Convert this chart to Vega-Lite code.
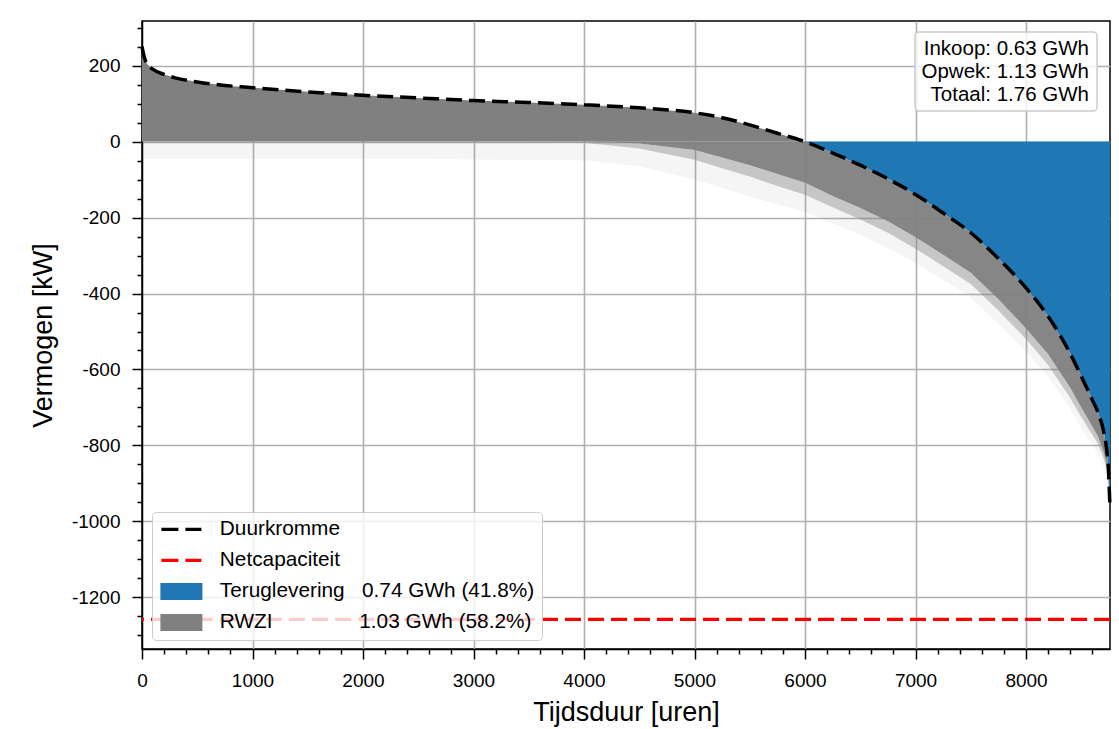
{
  "$schema": "https://vega.github.io/schema/vega-lite/v6.json",
  "width": 968,
  "height": 628,
  "autosize": {"type": "none"},
  "padding": {"left": 142, "top": 21, "right": 9, "bottom": 80},
  "background": "white",
  "datasets": {
    "curve": [
      {"t": 0, "kw": 250, "top": 0, "b1": 0, "b2": -2, "b3": -45},
      {"t": 25, "kw": 218, "top": 0, "b1": 0, "b2": -2, "b3": -45},
      {"t": 50, "kw": 203, "top": 0, "b1": 0, "b2": -2, "b3": -45},
      {"t": 100, "kw": 190, "top": 0, "b1": 0, "b2": -2, "b3": -45},
      {"t": 200, "kw": 177, "top": 0, "b1": 0, "b2": -2, "b3": -45},
      {"t": 300, "kw": 168, "top": 0, "b1": 0, "b2": -2, "b3": -45},
      {"t": 500, "kw": 157, "top": 0, "b1": 0, "b2": -2, "b3": -45},
      {"t": 750, "kw": 148, "top": 0, "b1": 0, "b2": -2, "b3": -45},
      {"t": 1000, "kw": 142, "top": 0, "b1": 0, "b2": -2, "b3": -45},
      {"t": 1500, "kw": 131, "top": 0, "b1": 0, "b2": -2, "b3": -45},
      {"t": 2000, "kw": 122, "top": 0, "b1": 0, "b2": -2, "b3": -45},
      {"t": 2500, "kw": 115, "top": 0, "b1": 0, "b2": -2, "b3": -45},
      {"t": 3000, "kw": 108, "top": 0, "b1": 0, "b2": -2, "b3": -47},
      {"t": 3500, "kw": 103, "top": 0, "b1": 0, "b2": -2, "b3": -48},
      {"t": 4000, "kw": 97, "top": 0, "b1": 0, "b2": -3, "b3": -50},
      {"t": 4500, "kw": 89, "top": 0, "b1": -5, "b2": -18, "b3": -65},
      {"t": 5000, "kw": 76, "top": 0, "b1": -22, "b2": -48, "b3": -100},
      {"t": 5250, "kw": 63, "top": 0, "b1": -42, "b2": -70, "b3": -122},
      {"t": 5500, "kw": 44, "top": 0, "b1": -62, "b2": -92, "b3": -145},
      {"t": 5750, "kw": 22, "top": 0, "b1": -85, "b2": -117, "b3": -165},
      {"t": 6000, "kw": 0, "top": 0, "b1": -108, "b2": -140, "b3": -185},
      {"t": 6250, "kw": -30, "top": -30, "b1": -143, "b2": -173, "b3": -215},
      {"t": 6500, "kw": -62, "top": -62, "b1": -175, "b2": -205, "b3": -245},
      {"t": 6750, "kw": -98, "top": -98, "b1": -210, "b2": -240, "b3": -280},
      {"t": 7000, "kw": -139, "top": -139, "b1": -252, "b2": -282, "b3": -320},
      {"t": 7250, "kw": -188, "top": -188, "b1": -298, "b2": -328, "b3": -364},
      {"t": 7500, "kw": -240, "top": -240, "b1": -345, "b2": -375, "b3": -410},
      {"t": 7750, "kw": -308, "top": -308, "b1": -415, "b2": -445, "b3": -480},
      {"t": 8000, "kw": -385, "top": -385, "b1": -492, "b2": -520, "b3": -552},
      {"t": 8200, "kw": -460, "top": -460, "b1": -560, "b2": -588, "b3": -618},
      {"t": 8400, "kw": -558, "top": -558, "b1": -648, "b2": -675, "b3": -702},
      {"t": 8500, "kw": -618, "top": -618, "b1": -700, "b2": -725, "b3": -755},
      {"t": 8600, "kw": -680, "top": -680, "b1": -750, "b2": -772, "b3": -800},
      {"t": 8650, "kw": -712, "top": -712, "b1": -775, "b2": -795, "b3": -820},
      {"t": 8700, "kw": -760, "top": -760, "b1": -815, "b2": -832, "b3": -855},
      {"t": 8725, "kw": -800, "top": -800, "b1": -845, "b2": -858, "b3": -875},
      {"t": 8745, "kw": -860, "top": -860, "b1": -890, "b2": -900, "b3": -912},
      {"t": 8760, "kw": -965, "top": -965, "b1": -965, "b2": -965, "b3": -965}
    ]
  },
  "layer": [
    {
      "data": {"name": "curve"},
      "transform": [{"filter": "datum.t <= 6000"}],
      "mark": {"type": "area", "opacity": 1},
      "encoding": {
        "x": {
          "field": "t", "type": "quantitative", "title": "Tijdsduur [uren]",
          "scale": {"domain": [0, 8760], "nice": false, "zero": false},
          "axis": {
            "values": [0,200,400,600,800,1000,1200,1400,1600,1800,2000,2200,2400,2600,2800,3000,3200,3400,3600,3800,4000,4200,4400,4600,4800,5000,5200,5400,5600,5800,6000,6200,6400,6600,6800,7000,7200,7400,7600,7800,8000,8200,8400,8600],
            "tickCount": 200,
            "format": "d",
            "labelExpr": "datum.value % 1000 === 0 ? datum.label : ''",
            "labelOverlap": false, "labelFlush": false,
            "tickSize": {"condition": {"test": "datum.value % 1000 === 0", "value": 10}, "value": 5},
            "gridOpacity": {"condition": {"test": "datum.value % 1000 === 0 && datum.value > 0", "value": 1}, "value": 0},
            "titlePadding": 9
          }
        },
        "y": {
          "field": "kw", "type": "quantitative", "title": "Vermogen [kW]",
          "scale": {"domain": [-1336, 317.6], "nice": false, "zero": false},
          "axis": {
            "values": [-1300,-1250,-1200,-1150,-1100,-1050,-1000,-950,-900,-850,-800,-750,-700,-650,-600,-550,-500,-450,-400,-350,-300,-250,-200,-150,-100,-50,0,50,100,150,200,250,300],
            "tickCount": 200,
            "labelExpr": "datum.value % 200 === 0 ? '' + datum.value : ''",
            "labelOverlap": false, "labelFlush": false,
            "tickSize": {"condition": {"test": "datum.value % 200 === 0", "value": 10}, "value": 5},
            "gridOpacity": {"condition": {"test": "datum.value % 200 === 0", "value": 1}, "value": 0},
            "titlePadding": 14
          }
        },
        "y2": {"datum": 0},
        "color": {
          "datum": "RWZI",
          "scale": {"domain": ["Duurkromme", "Netcapaciteit", "Teruglevering", "RWZI"], "range": ["black", "#ff0000", "#1f77b4", "#808080"]},
          "legend": {
            "title": null, "orient": "none", "legendX": 10, "legendY": 491, "zindex": 5,
            "padding": 7, "fillColor": "rgba(255,255,255,0.8)", "strokeColor": "#cccccc", "cornerRadius": 4,
            "labelFont": "Liberation Sans", "labelFontSize": 20.8, "labelColor": "black", "labelLimit": 0,
            "symbolSize": 400, "symbolOffset": 12, "labelOffset": 28, "rowPadding": 9,
            "symbolType": {"expr": "(datum.value === 'Duurkromme' || datum.value === 'Netcapaciteit') ? 'M-2,0H2' : 'M-2.1,-0.85H2.1V0.85H-2.1Z'"},
            "symbolStrokeColor": {"expr": "datum.value === 'Duurkromme' ? 'black' : datum.value === 'Netcapaciteit' ? '#ff0000' : 'transparent'"},
            "symbolFillColor": {"expr": "datum.value === 'Teruglevering' ? '#1f77b4' : datum.value === 'RWZI' ? '#808080' : 'transparent'"},
            "symbolStrokeWidth": {"expr": "(datum.value === 'Duurkromme' || datum.value === 'Netcapaciteit') ? 3.3 : 0"},
            "symbolDash": [17, 7],
            "symbolOpacity": 1,
            "labelExpr": "datum.label === 'Teruglevering' ? 'Teruglevering\u00a0\u00a0\u00a00.74 GWh (41.8%)' : datum.label === 'RWZI' ? 'RWZI\u00a0\u00a0\u00a0\u00a0\u00a0\u00a0\u00a0\u00a0\u00a0\u00a0\u00a0\u00a0\u00a0\u00a0\u00a01.03 GWh (58.2%)' : datum.label"
          }
        }
      }
    },
    {
      "data": {"name": "curve"},
      "transform": [{"filter": "datum.t >= 6000"}],
      "mark": {"type": "area", "opacity": 1},
      "encoding": {
        "x": {"field": "t", "type": "quantitative", "title": "Tijdsduur [uren]"},
        "y": {"field": "kw", "type": "quantitative", "title": "Vermogen [kW]"},
        "y2": {"datum": 0},
        "color": {"datum": "Teruglevering"}
      }
    },
    {
      "data": {"name": "curve"},
      "mark": {"type": "area", "color": "#808080", "opacity": 0.95},
      "encoding": {
        "x": {"field": "t", "type": "quantitative", "title": "Tijdsduur [uren]"},
        "y": {"field": "top", "type": "quantitative", "title": "Vermogen [kW]"},
        "y2": {"field": "b1"}
      }
    },
    {
      "data": {"name": "curve"},
      "mark": {"type": "area", "color": "#808080", "opacity": 0.45},
      "encoding": {
        "x": {"field": "t", "type": "quantitative", "title": "Tijdsduur [uren]"},
        "y": {"field": "b1", "type": "quantitative", "title": "Vermogen [kW]"},
        "y2": {"field": "b2"}
      }
    },
    {
      "data": {"name": "curve"},
      "mark": {"type": "area", "color": "#808080", "opacity": 0.08},
      "encoding": {
        "x": {"field": "t", "type": "quantitative", "title": "Tijdsduur [uren]"},
        "y": {"field": "b2", "type": "quantitative", "title": "Vermogen [kW]"},
        "y2": {"field": "b3"}
      }
    },
    {
      "data": {"name": "curve"},
      "mark": {"type": "line", "strokeDash": [16, 7], "strokeWidth": 3.5, "zindex": 2, "interpolate": "monotone"},
      "encoding": {
        "x": {"field": "t", "type": "quantitative", "title": "Tijdsduur [uren]"},
        "y": {"field": "kw", "type": "quantitative", "title": "Vermogen [kW]"},
        "color": {"datum": "Duurkromme"}
      }
    },
    {
      "data": {"values": [{"cap": -1258}]},
      "mark": {"type": "rule", "strokeDash": [16, 7], "strokeWidth": 3.3, "zindex": 2},
      "encoding": {
        "y": {"field": "cap", "type": "quantitative", "title": "Vermogen [kW]"},
        "color": {"datum": "Netcapaciteit"}
      }
    },
    {
      "data": {"values": [{"box": "info"}]},
      "mark": {"type": "rect", "fill": "white", "fillOpacity": 0.8, "stroke": "#cccccc", "strokeWidth": 1.5, "cornerRadius": 4, "zindex": 2},
      "encoding": {
        "x": {"datum": 6995, "type": "quantitative"},
        "x2": {"datum": 8643},
        "y": {"datum": 288.7, "type": "quantitative"},
        "y2": {"datum": 80.5}
      }
    },
    {
      "data": {"values": [{"note": "Inkoop: 0.63 GWh\nOpwek: 1.13 GWh\nTotaal: 1.76 GWh"}]},
      "mark": {"type": "text", "align": "right", "baseline": "middle", "font": "Liberation Sans", "fontSize": 20.5, "lineHeight": 23, "lineBreak": "\n", "color": "black", "zindex": 3},
      "encoding": {
        "x": {"datum": 8570, "type": "quantitative"},
        "y": {"datum": 244, "type": "quantitative"},
        "text": {"field": "note"}
      }
    }
  ],
  "config": {
    "font": "Liberation Sans",
    "view": {"stroke": "black", "strokeWidth": 1.5},
    "axis": {
      "domain": true, "domainColor": "black", "domainWidth": 1.5,
      "grid": true, "gridColor": "#b0b0b0", "gridWidth": 1.6,
      "tickColor": "black", "tickWidth": 1.5,
      "labelFont": "Liberation Sans", "labelFontSize": 19, "labelColor": "black", "labelPadding": 12,
      "titleFont": "Liberation Sans", "titleFontSize": 27, "titleFontWeight": "normal", "titleColor": "black",
      "zindex": 1
    }
  }
}
